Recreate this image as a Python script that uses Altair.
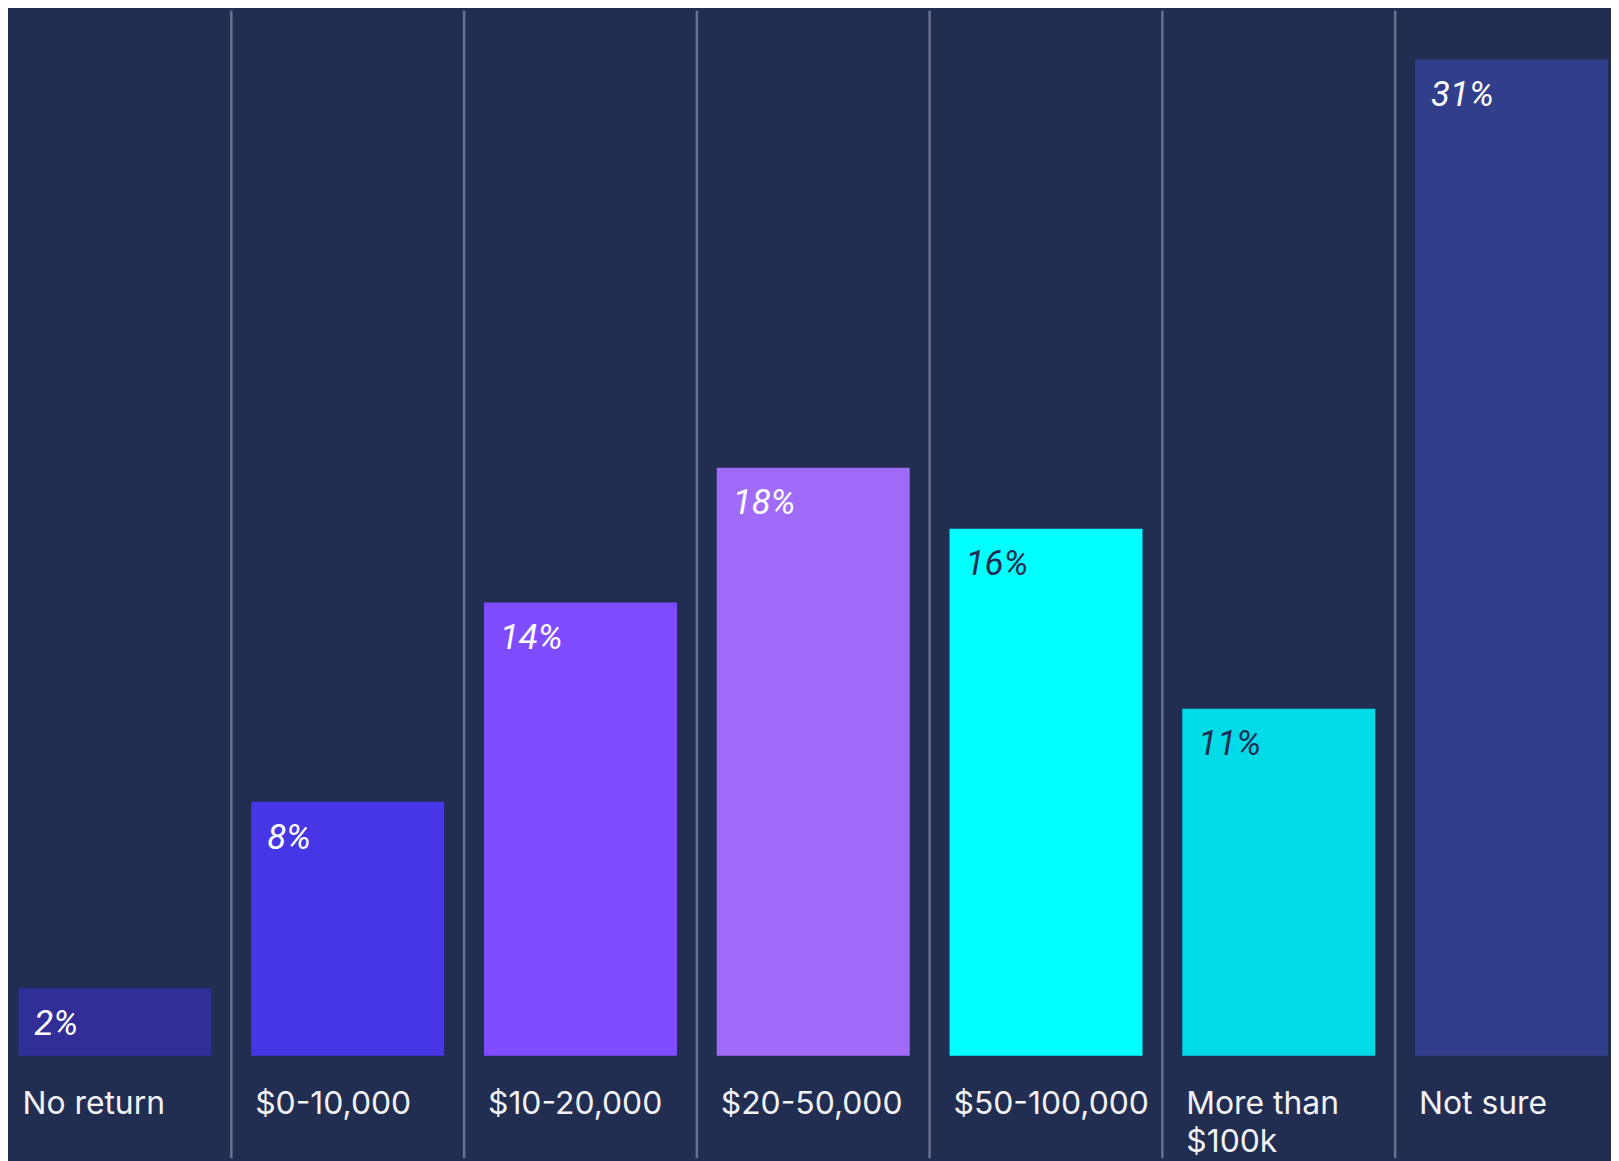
import altair as alt
import pandas as pd

categories = ["No return", "$0-10,000", "$10-20,000", "$20-50,000",
              "$50-100,000", "More than\n$100k", "Not sure"]
values = [2.1, 7.9, 14.1, 18.3, 16.4, 10.8, 31.0]

bar_colors = ["#312e98", "#4636e5", "#7f4dff", "#a06bf9", "#00ffff", "#00dbe7", "#313e8c"]
label_colors = ["#ffffff", "#ffffff", "#ffffff", "#ffffff", "#222d52", "#222d52", "#ffffff"]
BG = "#222d52"

df = pd.DataFrame({"category": categories, "value": values})

x_scale = alt.Scale(domain=categories, range=[-9.5, 1628], paddingInner=0, paddingOuter=0)
y_scale = alt.Scale(domain=[0, 31], range=[1050, 49])

seps = alt.Chart(df).mark_rule(color="#6a7192", strokeWidth=2.5).encode(
    x=alt.X("category:N", scale=x_scale, sort=categories, bandPosition=0, axis=None),
    y=alt.value(0),
    y2=alt.value(1153),
)

bars = alt.Chart(df).mark_bar(width=alt.RelativeBandSize(0.829)).encode(
    x=alt.X("category:N", scale=x_scale, sort=categories, axis=None),
    y=alt.Y("value:Q", scale=y_scale, axis=None),
    color=alt.Color("category:N", scale=alt.Scale(domain=categories, range=bar_colors), legend=None),
)

pct = alt.Chart(df).transform_calculate(
    label="format(datum.value, '.0f') + '%'"
).mark_text(align="left", baseline="alphabetic", dx=36, dy=47,
            font="Roboto", fontSize=35, fontStyle="italic").encode(
    x=alt.X("category:N", scale=x_scale, sort=categories, bandPosition=0, axis=None),
    y=alt.Y("value:Q", scale=y_scale, axis=None),
    text="label:N",
    color=alt.Color("category:N", scale=alt.Scale(domain=categories, range=label_colors), legend=None),
)

cats = alt.Chart(df).mark_text(align="left", baseline="alphabetic", dx=24, dy=59,
                               lineBreak="\n", lineHeight=38,
                               font="Inter", fontSize=32, color="#f2f3f7").encode(
    x=alt.X("category:N", scale=x_scale, sort=categories, bandPosition=0, axis=None),
    y=alt.datum(0, scale=y_scale),
    text="category:N",
)

chart = alt.layer(seps, bars, pct, cats).resolve_scale(color="independent").properties(
    width=1611, height=1153, padding=0, autosize="none", background=BG
).configure_view(stroke=None)

chart.save("out.html", embed_options={"renderer": "svg", "actions": False})
